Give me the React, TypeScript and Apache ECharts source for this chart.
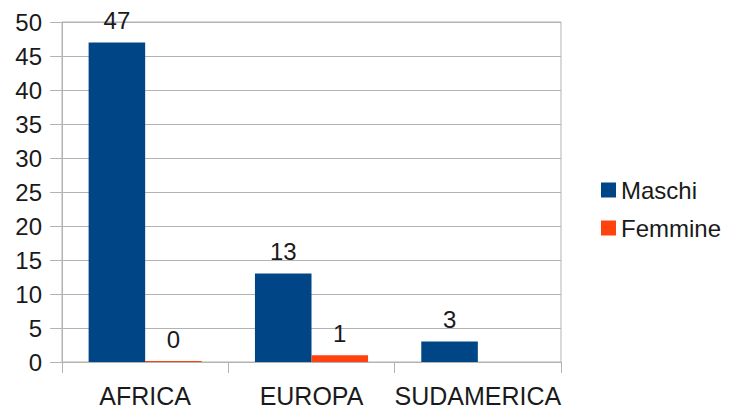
import React, { useEffect, useRef } from "react";
import * as echarts from "echarts";

const categories = ["AFRICA", "EUROPA", "SUDAMERICA"];
const maschi = [47, 13, 3];
const femmine: (number | null)[] = [0, 1, null];
const yTicks = { min: 0, max: 50, interval: 5 };

export default function App() {
  const ref = useRef<HTMLDivElement>(null);
  useEffect(() => {
    document.body.style.margin = "0";
    const chart = echarts.init(ref.current!, null, { renderer: "svg" });
    const font = "'Liberation Sans', Arial, sans-serif";
    const textColor = "#1a1a1a";
    const gray = "#b3b3b3";
    chart.setOption({
      animation: false,
      backgroundColor: "#ffffff",
      textStyle: { fontFamily: font },
      grid: {
        left: 62,
        top: 22,
        width: 499,
        height: 340,
        show: true,
        borderColor: gray,
        borderWidth: 1,
        backgroundColor: "transparent",
      },
      legend: {
        orient: "vertical",
        left: 596,
        top: 172,
        itemWidth: 15,
        itemHeight: 15,
        itemGap: 12,
        icon: "rect",
        textStyle: {
          fontFamily: font,
          fontSize: 24,
          color: textColor,
          lineHeight: 26,
        },
        data: ["Maschi", "Femmine"],
      },
      xAxis: {
        type: "category",
        data: categories,
        boundaryGap: true,
        axisLine: { show: true, lineStyle: { color: gray, width: 1 } },
        axisTick: { show: true, length: 11, lineStyle: { color: gray } },
        axisLabel: {
          interval: 0,
          fontFamily: font,
          fontSize: 25,
          lineHeight: 25,
          color: textColor,
          margin: 21,
        },
      },
      yAxis: {
        type: "value",
        min: yTicks.min,
        max: yTicks.max,
        interval: yTicks.interval,
        axisLine: { show: true, lineStyle: { color: gray, width: 1 } },
        axisTick: { show: true, length: 12, lineStyle: { color: gray } },
        splitLine: { show: true, lineStyle: { color: gray, width: 1 } },
        axisLabel: {
          fontFamily: font,
          fontSize: 24,
          color: textColor,
          margin: 20,
        },
      },
      series: [
        {
          name: "Maschi",
          type: "bar",
          data: maschi,
          barGap: "0%",
          barCategoryGap: "32%",
          itemStyle: { color: "#004586" },
          label: {
            show: true,
            position: "top",
            distance: 10,
            fontFamily: font,
            fontSize: 24,
            color: textColor,
          },
        },
        {
          name: "Femmine",
          type: "bar",
          data: femmine,
          barMinHeight: 1,
          itemStyle: { color: "#ff420e" },
          label: {
            show: true,
            position: "top",
            distance: 10,
            fontFamily: font,
            fontSize: 24,
            color: textColor,
          },
        },
      ],
    });
    return () => chart.dispose();
  }, []);
  return (
    <div
      ref={ref}
      style={{ position: "fixed", left: 0, top: 0, width: 731, height: 409 }}
    />
  );
}
